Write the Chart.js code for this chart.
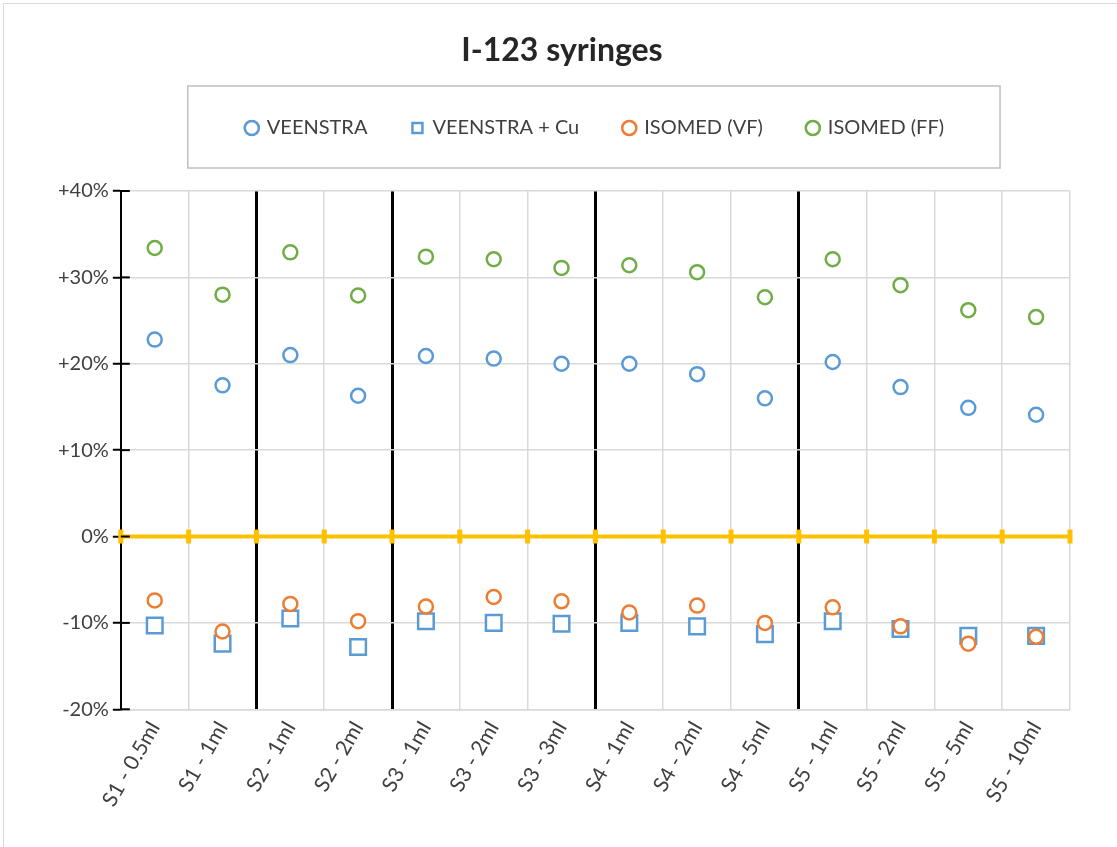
<!DOCTYPE html>
<html>
<head>
<meta charset="utf-8">
<title>I-123 syringes</title>
<script src="https://cdn.jsdelivr.net/npm/chart.js@4/dist/chart.umd.min.js"></script>
<style>
  body { margin: 0; background: #fff; }
  canvas { display: block; }
</style>
</head>
<body>
<canvas id="chart" width="1117" height="847"></canvas>
<script>
// syringe categories along the x axis
const categories = ['S1 - 0.5ml', 'S1 - 1ml', 'S2 - 1ml', 'S2 - 2ml', 'S3 - 1ml', 'S3 - 2ml', 'S3 - 3ml',
  'S4 - 1ml', 'S4 - 2ml', 'S4 - 5ml', 'S5 - 1ml', 'S5 - 2ml', 'S5 - 5ml', 'S5 - 10ml'];

// deviation in %
const veenstra   = [22.8, 17.5, 21.0, 16.3, 20.9, 20.6, 20.0, 20.0, 18.8, 16.0, 20.2, 17.3, 14.9, 14.1];
const veenstraCu = [-10.3, -12.4, -9.5, -12.8, -9.8, -10.0, -10.1, -10.0, -10.4, -11.3, -9.8, -10.7, -11.5, -11.5];
const isomedVF   = [-7.4, -11.0, -7.8, -9.8, -8.1, -7.0, -7.5, -8.8, -8.0, -10.0, -8.2, -10.4, -12.4, -11.6];
const isomedFF   = [33.4, 28.0, 32.9, 27.9, 32.4, 32.1, 31.1, 31.4, 30.6, 27.7, 32.1, 29.1, 26.2, 25.4];

// grid line index where a new syringe type begins
const groupStarts = [2, 4, 7, 10];

const yMin = -20, yMax = 40, yStep = 10;

Chart.defaults.font.family = 'Lato, "Open Sans", sans-serif';
Chart.defaults.color = '#404040';

// yellow zero line with small ticks, inner half of the y ticks, legend frame
const decorations = {
  id: 'decorations',
  beforeInit(chart) {
    const fit = chart.legend.fit;
    chart.legend.fit = function () {
      fit.call(this);
      this.height += 43;
    };
  },
  beforeDatasetsDraw(chart) {
    const { ctx, chartArea } = chart;
    const x = chart.scales.x, y = chart.scales.y;
    const y0 = y.getPixelForValue(0);
    ctx.save();
    ctx.strokeStyle = '#FFC000';
    ctx.lineWidth = 4;
    ctx.beginPath();
    ctx.moveTo(chartArea.left, y0);
    ctx.lineTo(chartArea.right, y0);
    ctx.stroke();
    ctx.lineWidth = 5;
    for (let i = 0; i <= categories.length; i++) {
      const px = x.getPixelForValue(i - 0.5);
      ctx.beginPath();
      ctx.moveTo(px, y0 - 7);
      ctx.lineTo(px, y0 + 7);
      ctx.stroke();
    }
    ctx.strokeStyle = '#000';
    ctx.lineWidth = 2;
    y.ticks.forEach(t => {
      const py = y.getPixelForValue(t.value);
      ctx.beginPath();
      ctx.moveTo(chartArea.left, py);
      ctx.lineTo(chartArea.left + 9, py);
      ctx.stroke();
    });
    ctx.restore();
  },
  afterDraw(chart) {
    const { ctx } = chart;
    const boxes = chart.legend.legendHitBoxes;
    if (!boxes || !boxes.length) return;
    const left = Math.min(...boxes.map(b => b.left)) - 59;
    const right = Math.max(...boxes.map(b => b.left + b.width)) + 56;
    const top = Math.min(...boxes.map(b => b.top)) - 32;
    const bottom = Math.max(...boxes.map(b => b.top + b.height)) + 30;
    ctx.save();
    ctx.strokeStyle = '#bfbfbf';
    ctx.lineWidth = 1.5;
    ctx.strokeRect(left, top, right - left, bottom - top);
    ctx.strokeStyle = '#d9d9d9';
    ctx.lineWidth = 1;
    ctx.strokeRect(3.5, 3.5, chart.width + 10, chart.height + 10);
    ctx.restore();
  }
};

function series(label, data, color, pointStyle, radius, order) {
  return {
    label,
    data,
    showLine: false,
    pointStyle,
    pointRadius: radius,
    pointHoverRadius: radius,
    borderColor: color,
    backgroundColor: '#fff',
    pointBorderWidth: 2.5,
    borderWidth: 2.5,
    order
  };
}

new Chart(document.getElementById('chart'), {
  type: 'line',
  data: {
    labels: categories,
    datasets: [
      series('VEENSTRA', veenstra, '#5B9BD5', 'circle', 7, 4),
      series('VEENSTRA + Cu', veenstraCu, '#5B9BD5', 'rect', 11, 3),
      series('ISOMED (VF)', isomedVF, '#ED7D31', 'circle', 7, 2),
      series('ISOMED (FF)', isomedFF, '#70AD47', 'circle', 7, 1)
    ]
  },
  options: {
    responsive: false,
    animation: false,
    layout: { padding: { left: 54, right: 47, top: 0, bottom: 28 } },
    plugins: {
      title: {
        display: true,
        text: 'I-123 syringes',
        color: '#262626',
        font: { size: 32, weight: 'bold', lineHeight: 1 },
        padding: { top: 35, bottom: 6 }
      },
      legend: {
        fullSize: false,
        labels: {
          usePointStyle: true,
          boxWidth: 10,
          boxHeight: 10,
          padding: 45,
          color: '#404040',
          font: { size: 20 },
          sort: (a, b) => a.datasetIndex - b.datasetIndex
        }
      },
      tooltip: { enabled: false }
    },
    scales: {
      x: {
        offset: true,
        grid: {
          offset: true,
          drawTicks: false,
          color: ctx => groupStarts.includes(ctx.index) ? '#000' : '#d9d9d9',
          lineWidth: ctx => groupStarts.includes(ctx.index) ? 3 : 1.5
        },
        border: { color: '#d9d9d9', width: 1.5 },
        ticks: {
          minRotation: 60,
          maxRotation: 60,
          padding: 8,
          color: '#404040',
          font: { size: 21 }
        }
      },
      y: {
        min: yMin,
        max: yMax,
        grid: { color: '#d9d9d9', lineWidth: 1.5, tickColor: '#000', tickLength: 8, tickWidth: 2 },
        border: { color: '#000', width: 2 },
        ticks: {
          stepSize: yStep,
          padding: 4,
          color: '#404040',
          font: { size: 20 },
          callback: v => (v > 0 ? '+' : '') + v + '%'
        }
      }
    }
  },
  plugins: [decorations]
});
</script>
</body>
</html>
